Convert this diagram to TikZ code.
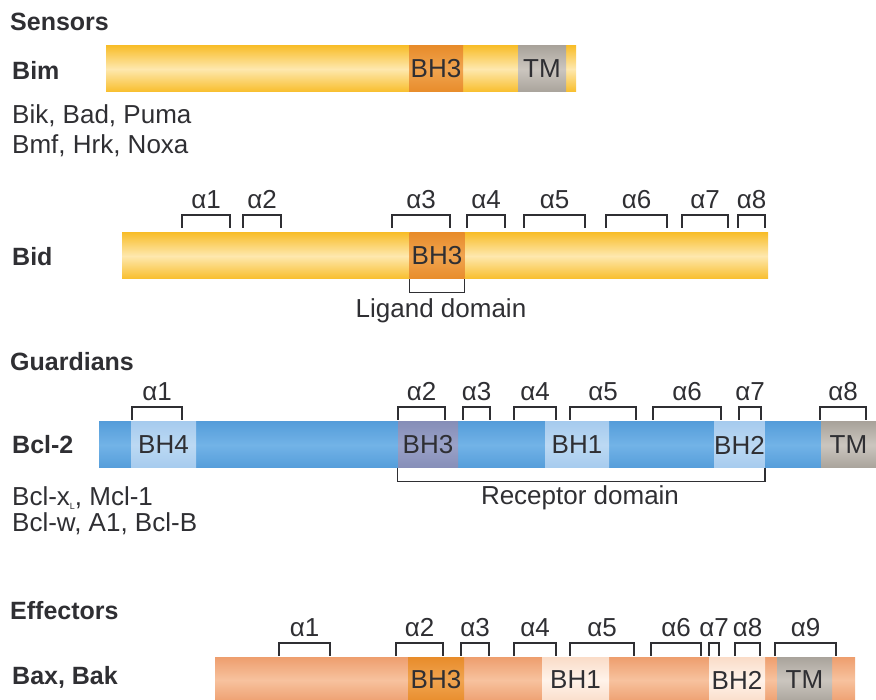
\documentclass[tikz,border=0pt]{standalone}
\usepackage{fontspec}
\setmainfont{Liberation Sans}
\usepackage{tikz}
\usetikzlibrary{positioning, calc}
\definecolor{ink}{HTML}{2F2F33}
\definecolor{yelEdge}{HTML}{F8BE2C}
\definecolor{yelMid}{HTML}{FEE8AE}
\definecolor{ornEdge}{HTML}{E88C2A}
\definecolor{ornMid}{HTML}{F0A450}
\definecolor{tmEdge}{HTML}{A9A39B}
\definecolor{tmMid}{HTML}{CBC6BF}
\definecolor{bluEdge}{HTML}{559DDA}
\definecolor{bluMid}{HTML}{72B3E7}
\definecolor{bluLite}{HTML}{A6CBEE}
\definecolor{bluLiteMid}{HTML}{BCD9F3}
\definecolor{bluDark}{HTML}{868EB8}
\definecolor{bluDarkMid}{HTML}{9AA2C8}
\definecolor{salEdge}{HTML}{EE9E6E}
\definecolor{salMid}{HTML}{F7C29E}
\definecolor{peach}{HTML}{FADCC8}
\definecolor{peachMid}{HTML}{FFF3EA}

\tikzset{
  lab/.style={font=\fontsize{26}{30}\selectfont, text=ink, inner sep=0},
  head/.style={lab, font=\fontsize{25}{29}\selectfont\bfseries, anchor=west},
  bar/.style 2 args={minimum height=46pt, inner sep=0, anchor=west,
    top color=#1, bottom color=#1, middle color=#2},
  dom/.style 2 args={lab, minimum height=46pt, top color=#1, bottom color=#1,
    middle color=#2},
  brk/.style={draw=ink, line width=1.3pt},
}
% one helix bracket: left x, right x, top y, name, label
\newcommand{\helix}[5]{%
  \draw[brk] (#1,#3+13) -- (#1,#3) -- (#2,#3) -- (#2,#3+13);
  \node[lab] (#4) at ({(#1+#2)/2},#3-15) {α#5};}

\begin{document}
\begin{tikzpicture}[x=1pt, y=-1pt]
  \useasboundingbox (0,0) rectangle (876,700);

  % Sensors
  \node[head] (sens) at (10,22) {Sensors};
  \node[head] (bimlab) at (12,70) {Bim};
  \node[bar={yelEdge}{yelMid}, minimum width=470pt] (bim) at (106,69) {};
  \node[dom={ornEdge}{ornMid}, minimum width=54pt] (bimBH) at (436,69) {BH3};
  \node[dom={tmEdge}{tmMid}, minimum width=48pt] (bimTM) at (542,69) {TM};
  \node[lab, anchor=west] (bik) at (12,116) {Bik, Bad, Puma};
  \node[lab, anchor=west] (bmf) at (12,146) {Bmf, Hrk, Noxa};

  % Bid
  \node[head] (bidlab) at (12,257) {Bid};
  \node[bar={yelEdge}{yelMid}, minimum width=646pt] (bid) at (122,256) {};
  \node[dom={ornEdge}{ornMid}, minimum width=55pt] (bidBH) at (437,256) {BH3};
  \foreach \a/\b/\n in {182/230/1, 243/281/2, 392/450/3, 467/505/4,
      524/585/5, 606/667/6, 682/728/7, 738/765/8}
    {\helix{\a}{\b}{215}{bidh\n}{\n}}
  \draw[brk] (bidBH.south west) -- ++(0,13) -| (bidBH.south east);
  \node[lab] (lig) at (441,311) {Ligand domain};

  % Guardians
  \node[head] (guard) at (10,362) {Guardians};
  \node[head] (bcllab) at (12,445) {Bcl-2};
  \node[bar={bluEdge}{bluMid}, minimum width=777pt] (bcl) at (99,445) {};
  \node[dom={bluLite}{bluLiteMid}, minimum width=65pt] (bclBH4) at (163.5,445) {BH4};
  \node[dom={bluDark}{bluDarkMid}, minimum width=60pt] (bclBH3) at (428,445) {BH3};
  \node[dom={bluLite}{bluLiteMid}, minimum width=64pt] (bclBH1) at (577,445) {BH1};
  \node[dom={bluLite}{bluLiteMid}, minimum width=49pt] (bclBH2) at (739.5,445) {BH2};
  \node[dom={tmEdge}{tmMid}, minimum width=55pt] (bclTM) at (848.5,445) {TM};
  \foreach \a/\b/\n in {132/182/1, 398/445/2, 463/490/3, 514/556/4,
      570/636/5, 653/721/6, 739/761/7, 820/866/8}
    {\helix{\a}{\b}{407}{bclh\n}{\n}}
  \draw[brk] (bclBH3.south west) -- ++(0,13) -| (bclBH2.south east);
  \node[lab] (rec) at (580,498) {Receptor domain};
  \node[lab, anchor=west] (bclx) at (12,498)
    {Bcl-x\raisebox{-0.35ex}{\fontsize{9}{10}\selectfont L}, Mcl-1};
  \node[lab, anchor=west] (bclw) at (12,524) {Bcl-w, A1, Bcl-B};

  % Effectors
  \node[head] (eff) at (10,611) {Effectors};
  \node[head] (baxlab) at (12,677) {Bax, Bak};
  \node[bar={salEdge}{salMid}, minimum width=640pt] (bax) at (215,680) {};
  \node[dom={ornEdge}{ornMid}, minimum width=56pt] (baxBH3) at (436,680) {BH3};
  \node[dom={peach}{peachMid}, minimum width=67pt] (baxBH1) at (575.5,680) {BH1};
  \node[dom={peach}{peachMid}, minimum width=56pt] (baxBH2) at (737,680) {BH2};
  \node[dom={tmEdge}{tmMid}, minimum width=55pt] (baxTM) at (804.5,680) {TM};
  \foreach \a/\b/\n in {279/330/1, 396/443/2, 461/489/3, 514/556/4,
      570/634/5, 651/701/6, 709/719/7, 735/760/8, 775/836/9}
    {\helix{\a}{\b}{643}{baxh\n}{\n}}
\end{tikzpicture}
\end{document}
